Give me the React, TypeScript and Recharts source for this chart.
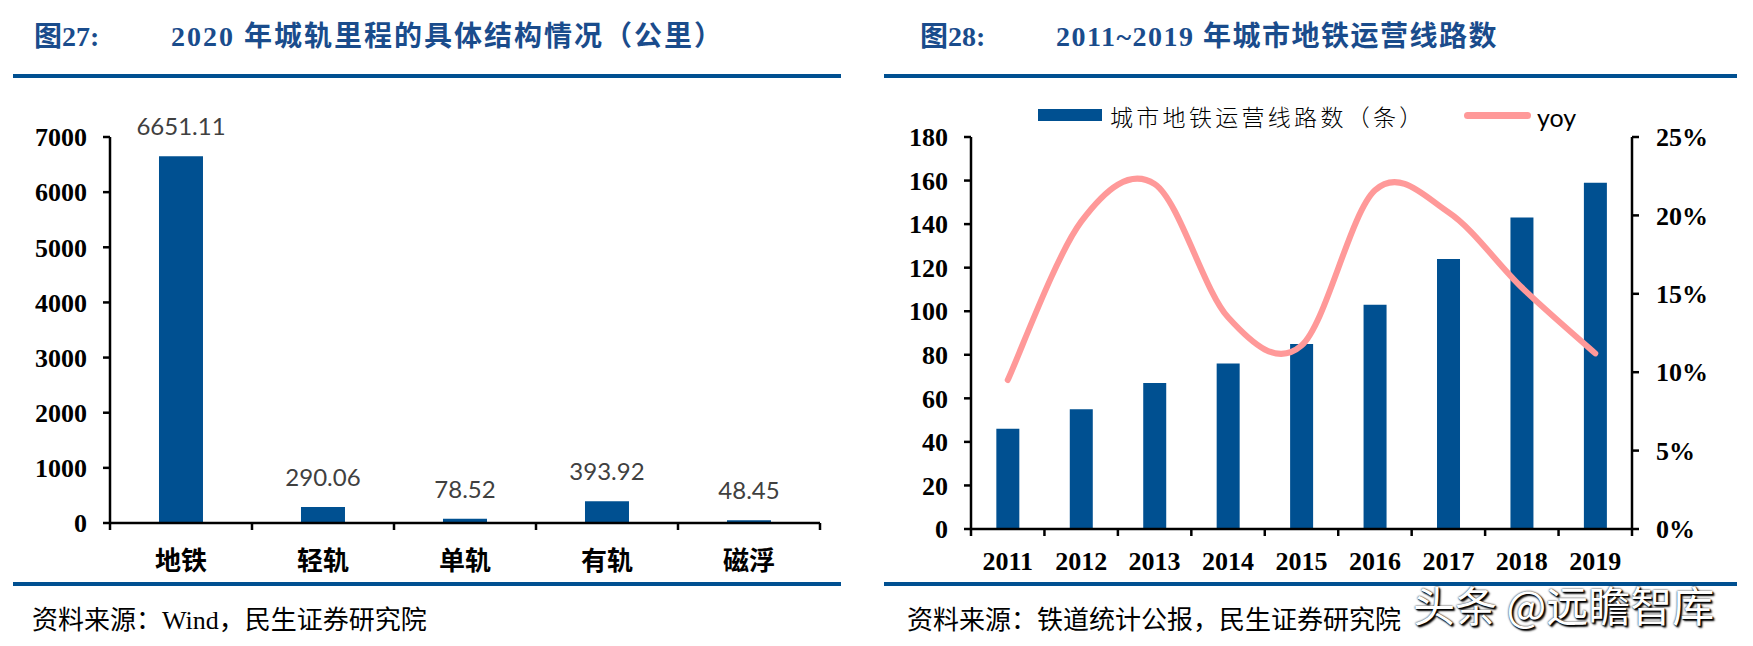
import { BarChart, ComposedChart, Bar, Line, XAxis, YAxis, LabelList } from "recharts";

// 图27: 2020 年城轨里程的具体结构情况（公里）
const railTypes = ["地铁", "轻轨", "单轨", "有轨", "磁浮"];
const railKm = [6651.11, 290.06, 78.52, 393.92, 48.45];
const railTicks = [0, 1000, 2000, 3000, 4000, 5000, 6000, 7000];

// 图28: 2011~2019 年城市地铁运营线路数
const years = ["2011", "2012", "2013", "2014", "2015", "2016", "2017", "2018", "2019"];
const lineCounts = [46, 55, 67, 76, 85, 103, 124, 143, 159];
const yoyPct = [9.5, 19.6, 22.0, 13.5, 11.7, 21.6, 20.2, 15.4, 11.2];
const countTicks = [0, 20, 40, 60, 80, 100, 120, 140, 160, 180];
const yoyTicks = [0, 5, 10, 15, 20, 25];

const BLUE = "#005091";
const TITLE_BLUE = "#1A4C8C";
const PINK = "#FF9999";
const SERIF = '"Liberation Serif", "Noto Sans CJK SC", serif';
const CJK = '"Noto Sans CJK SC", sans-serif';
const TICK = 7;

const railData = railTypes.map((name, i) => ({ name, km: railKm[i] }));
const metroData = years.map((year, i) => ({ year, count: lineCounts[i], yoy: yoyPct[i] }));

const axisStroke = { stroke: "#000", strokeWidth: 2.5 };
const tickFont = { fontFamily: SERIF, fontWeight: 700, fontSize: 26, fill: "#000" };

// Excel-like smoothed line (Catmull-Rom through the points)
function excelSmooth(context: any) {
  let pts: number[][] = [];
  return {
    areaStart() {},
    areaEnd() {},
    lineStart() { pts = []; },
    point(x: number, y: number) { pts.push([+x, +y]); },
    lineEnd() {
      if (!pts.length) return;
      context.moveTo(pts[0][0], pts[0][1]);
      for (let i = 0; i < pts.length - 1; i++) {
        const p0 = pts[i - 1] ?? pts[i];
        const p1 = pts[i];
        const p2 = pts[i + 1];
        const p3 = pts[i + 2] ?? p2;
        const k = 1 / 6;
        context.bezierCurveTo(
          p1[0] + (p2[0] - p0[0]) * k, p1[1] + (p2[1] - p0[1]) * k,
          p2[0] - (p3[0] - p1[0]) * k, p2[1] - (p3[1] - p1[1]) * k,
          p2[0], p2[1],
        );
      }
    },
  };
}

// category label plus tick marks on the band edges (Excel style)
function EdgeTick(props: any) {
  const { x, y, payload, index, visibleTicksCount, width, margin, font } = props;
  const band = width / visibleTicksCount;
  const axisY = y - TICK - margin;
  const edges = [x - band / 2];
  if (index === visibleTicksCount - 1) edges.push(x + band / 2);
  return (
    <g>
      {edges.map((ex) => (
        <line key={ex} x1={ex} x2={ex} y1={axisY} y2={axisY + TICK} stroke="#000" strokeWidth={2.5} />
      ))}
      <text x={x} y={y} dy="0.8em" textAnchor="middle" style={font}>{payload.value}</text>
    </g>
  );
}

function Txt({ x, y, size, children, style }: { x: number; y: number; size: number; children: React.ReactNode; style?: React.CSSProperties }) {
  return (
    <div
      style={{
        position: "absolute", left: x, top: y, transform: "translateY(-50%)",
        fontSize: size, lineHeight: 1, whiteSpace: "nowrap", ...style,
      }}
    >
      {children}
    </div>
  );
}

function Rule({ x1, x2, y }: { x1: number; x2: number; y: number }) {
  return <div style={{ position: "absolute", left: x1, top: y, width: x2 - x1, height: 4, background: BLUE }} />;
}

export default function App() {
  return (
    <div style={{ position: "absolute", left: 0, top: 0, width: 1753, height: 646, background: "#fff", overflow: "hidden" }}>
      {/* titles */}
      <Txt x={34} y={37} size={28} style={{ fontFamily: SERIF, fontWeight: 700, color: TITLE_BLUE }}>图27:</Txt>
      <Txt x={171} y={37} size={28} style={{ fontFamily: SERIF, fontWeight: 700, color: TITLE_BLUE, letterSpacing: 2 }}>2020 年城轨里程的具体结构情况（公里）</Txt>
      <Txt x={920} y={37} size={28} style={{ fontFamily: SERIF, fontWeight: 700, color: TITLE_BLUE }}>图28:</Txt>
      <Txt x={1056} y={37} size={28} style={{ fontFamily: SERIF, fontWeight: 700, color: TITLE_BLUE, letterSpacing: 1.5 }}>2011~2019 年城市地铁运营线路数</Txt>
      <Rule x1={13} x2={841} y={74} />
      <Rule x1={884} x2={1737} y={74} />
      <Rule x1={13} x2={841} y={582} />
      <Rule x1={884} x2={1737} y={582} />

      {/* left chart */}
      <div style={{ position: "absolute", left: 0, top: 0 }}>
        <BarChart width={876} height={646} data={railData} margin={{ top: 137, right: 56, bottom: 93, left: 50 }} barCategoryGap="34.5%">
          <XAxis dataKey="name" tickLine={false} axisLine={axisStroke} tickSize={TICK} tickMargin={19} interval={0}
            tick={(p: any) => <EdgeTick {...p} margin={19} font={{ fontFamily: CJK, fontWeight: 700, fontSize: 26, fill: "#000" }} />} />
          <YAxis width={60} domain={[0, 7000]} ticks={railTicks} interval={0} tick={tickFont}
            tickSize={TICK} tickMargin={16} axisLine={axisStroke} tickLine={axisStroke} />
          <Bar dataKey="km" fill={BLUE} isAnimationActive={false}>
            <LabelList dataKey="km" position="top" offset={21}
              formatter={(v: any) => Number(v).toFixed(2)}
              style={{ fontFamily: "Lato, sans-serif", fontSize: 24, fill: "#404040" }} />
          </Bar>
        </BarChart>
      </div>

      {/* right chart */}
      <div style={{ position: "absolute", left: 876, top: 0 }}>
        <ComposedChart width={877} height={646} data={metroData} margin={{ top: 137, right: 61, bottom: 87, left: 35 }} barCategoryGap="34.5%">
          <XAxis dataKey="year" tickLine={false} axisLine={axisStroke} tickSize={TICK} tickMargin={13} interval={0}
            tick={(p: any) => <EdgeTick {...p} margin={13} font={tickFont} />} />
          <YAxis yAxisId="count" width={60} domain={[0, 180]} ticks={countTicks} interval={0} tick={tickFont}
            tickSize={TICK} tickMargin={16} axisLine={axisStroke} tickLine={axisStroke} />
          <YAxis yAxisId="yoy" orientation="right" width={60} domain={[0, 25]} ticks={yoyTicks} interval={0}
            tickFormatter={(v: number) => `${v}%`} tick={tickFont}
            tickSize={TICK} tickMargin={17} axisLine={axisStroke} tickLine={axisStroke} />
          <Bar yAxisId="count" dataKey="count" fill={BLUE} isAnimationActive={false} />
          <Line yAxisId="yoy" dataKey="yoy" type={excelSmooth as any} stroke={PINK} strokeWidth={6} strokeLinecap="round"
            dot={false} activeDot={false} isAnimationActive={false} />
        </ComposedChart>
      </div>

      {/* legend of the right chart */}
      <div style={{ position: "absolute", left: 1038, top: 109, width: 64, height: 12, background: BLUE }} />
      <Txt x={1110} y={116} size={23} style={{ fontFamily: CJK, fontWeight: 300, letterSpacing: 3.3, color: "#000" }}>城市地铁运营线路数（条）</Txt>
      <div style={{ position: "absolute", left: 1464, top: 112, width: 67, height: 7, borderRadius: 4, background: PINK }} />
      <Txt x={1537} y={117} size={25} style={{ fontFamily: "Lato, sans-serif", color: "#000" }}>yoy</Txt>

      {/* sources */}
      <Txt x={32} y={621} size={26} style={{ fontFamily: SERIF, color: "#000" }}>资料来源：Wind，民生证券研究院</Txt>
      <Txt x={907} y={621} size={26} style={{ fontFamily: SERIF, color: "#000" }}>资料来源：铁道统计公报，民生证券研究院</Txt>

      {/* watermark */}
      <Txt x={1413} y={604} size={42} style={{ fontFamily: CJK, color: "#fff", textShadow: "0 0 2px #000, 2px 2px 2px #000, 1px 1px 1px #000" }}>头条 @远瞻智库</Txt>
    </div>
  );
}
